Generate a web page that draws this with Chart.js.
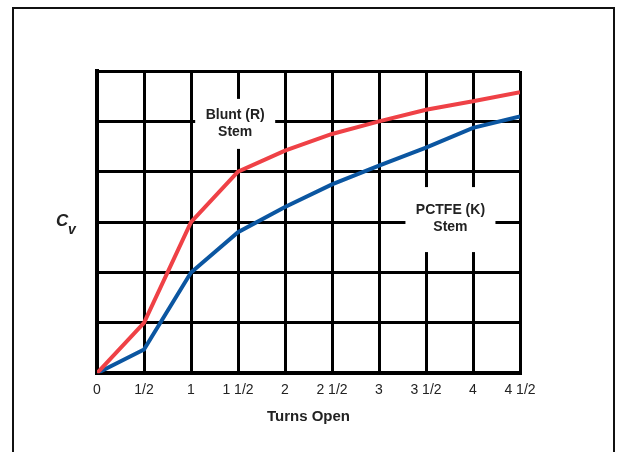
<!DOCTYPE html>
<html>
<head>
<meta charset="utf-8">
<script src="https://cdn.jsdelivr.net/npm/chart.js@4.4.0/dist/chart.umd.min.js"></script>
<style>
  body { margin: 0; background: #fff; }
  #wrap { position: relative; width: 618px; height: 452px; overflow: hidden; }
  #frame { position: absolute; left: 12px; top: 7px; width: 599px; height: 470px; border: 2px solid #111; }
  canvas { position: absolute; left: 0; top: 0; }
</style>
</head>
<body>
<div id="wrap">
  <div id="frame"></div>
  <canvas id="cvChart" width="618" height="452"></canvas>
</div>
<script>
// Cv vs turns open, y in grid units (no scale printed on the original)
const turns = [0, 0.5, 1, 1.5, 2, 2.5, 3, 3.5, 4, 4.5];
const tickLabels = ["0", "1/2", "1", "1 1/2", "2", "2 1/2", "3", "3 1/2", "4", "4 1/2"];
const bluntStem = [0, 1.0, 3.0, 4.0, 4.42, 4.75, 5.0, 5.23, 5.4, 5.58];
const pctfeStem = [0, 0.47, 2.0, 2.8, 3.3, 3.75, 4.12, 4.48, 4.87, 5.1];

// boxed curve labels, placed in data units
const stemLabels = [
  { lines: ["Blunt (R)", "Stem"], x: 1.47, y: 4.95, w: 80, h: 50 },
  { lines: ["PCTFE (K)", "Stem"], x: 3.76, y: 3.05, w: 90, h: 65 }
];

const FONT = "'Liberation Sans', Arial, Helvetica, sans-serif";

const labelPlugin = {
  id: 'stemLabels',
  beforeDatasetsDraw(chart) {
    const { ctx, scales: { x, y } } = chart;
    ctx.save();
    stemLabels.forEach(l => {
      const cx = x.getPixelForValue(l.x);
      const cy = y.getPixelForValue(l.y);
      ctx.fillStyle = '#fff';
      ctx.fillRect(cx - l.w / 2, cy - l.h / 2, l.w, l.h);
      ctx.fillStyle = '#222';
      ctx.font = 'bold 14px ' + FONT;
      ctx.textAlign = 'center';
      ctx.textBaseline = 'middle';
      ctx.fillText(l.lines[0], cx, cy - 9);
      ctx.fillText(l.lines[1], cx, cy + 8);
    });
    ctx.restore();
  },
  afterDraw(chart) {
    const ctx = chart.ctx;
    ctx.save();
    ctx.fillStyle = '#222';
    ctx.textBaseline = 'alphabetic';
    ctx.textAlign = 'left';
    ctx.font = 'italic bold 17px ' + FONT;
    ctx.fillText('C', 56, 226);
    ctx.font = 'italic bold 14px ' + FONT;
    ctx.fillText('v', 68, 234);
    ctx.restore();
  }
};

new Chart(document.getElementById('cvChart'), {
  type: 'line',
  data: {
    datasets: [{
      label: 'Blunt (R) Stem',
      data: turns.map((t, i) => ({ x: t, y: bluntStem[i] })),
      borderColor: '#ef4146',
      borderWidth: 4,
      pointRadius: 0,
      tension: 0,
      fill: false
    }, {
      label: 'PCTFE (K) Stem',
      data: turns.map((t, i) => ({ x: t, y: pctfeStem[i] })),
      borderColor: '#0b56a1',
      borderWidth: 4,
      pointRadius: 0,
      tension: 0,
      fill: false
    }]
  },
  options: {
    responsive: false,
    animation: false,
    layout: { padding: { left: 97, right: 98, top: 71, bottom: 22 } },
    plugins: { legend: { display: false }, tooltip: { enabled: false } },
    scales: {
      x: {
        type: 'linear',
        min: 0,
        max: 4.5,
        afterBuildTicks: axis => { axis.ticks = turns.map(v => ({ value: v })); },
        grid: { color: '#000', lineWidth: 3, drawTicks: false },
        border: { color: '#000', width: 4 },
        ticks: {
          autoSkip: false,
          maxRotation: 0,
          padding: 9,
          color: '#222',
          font: { family: FONT, size: 14 },
          callback: v => tickLabels[turns.indexOf(v)]
        },
        title: {
          display: true,
          text: 'Turns Open',
          color: '#222',
          padding: { top: 0 },
          font: { family: FONT, size: 15, weight: 'bold' }
        }
      },
      y: {
        min: 0,
        max: 6,
        ticks: { display: false, stepSize: 1 },
        grid: { color: '#000', lineWidth: 3, drawTicks: false },
        border: { color: '#000', width: 4 }
      }
    }
  },
  plugins: [labelPlugin]
});
</script>
</body>
</html>
